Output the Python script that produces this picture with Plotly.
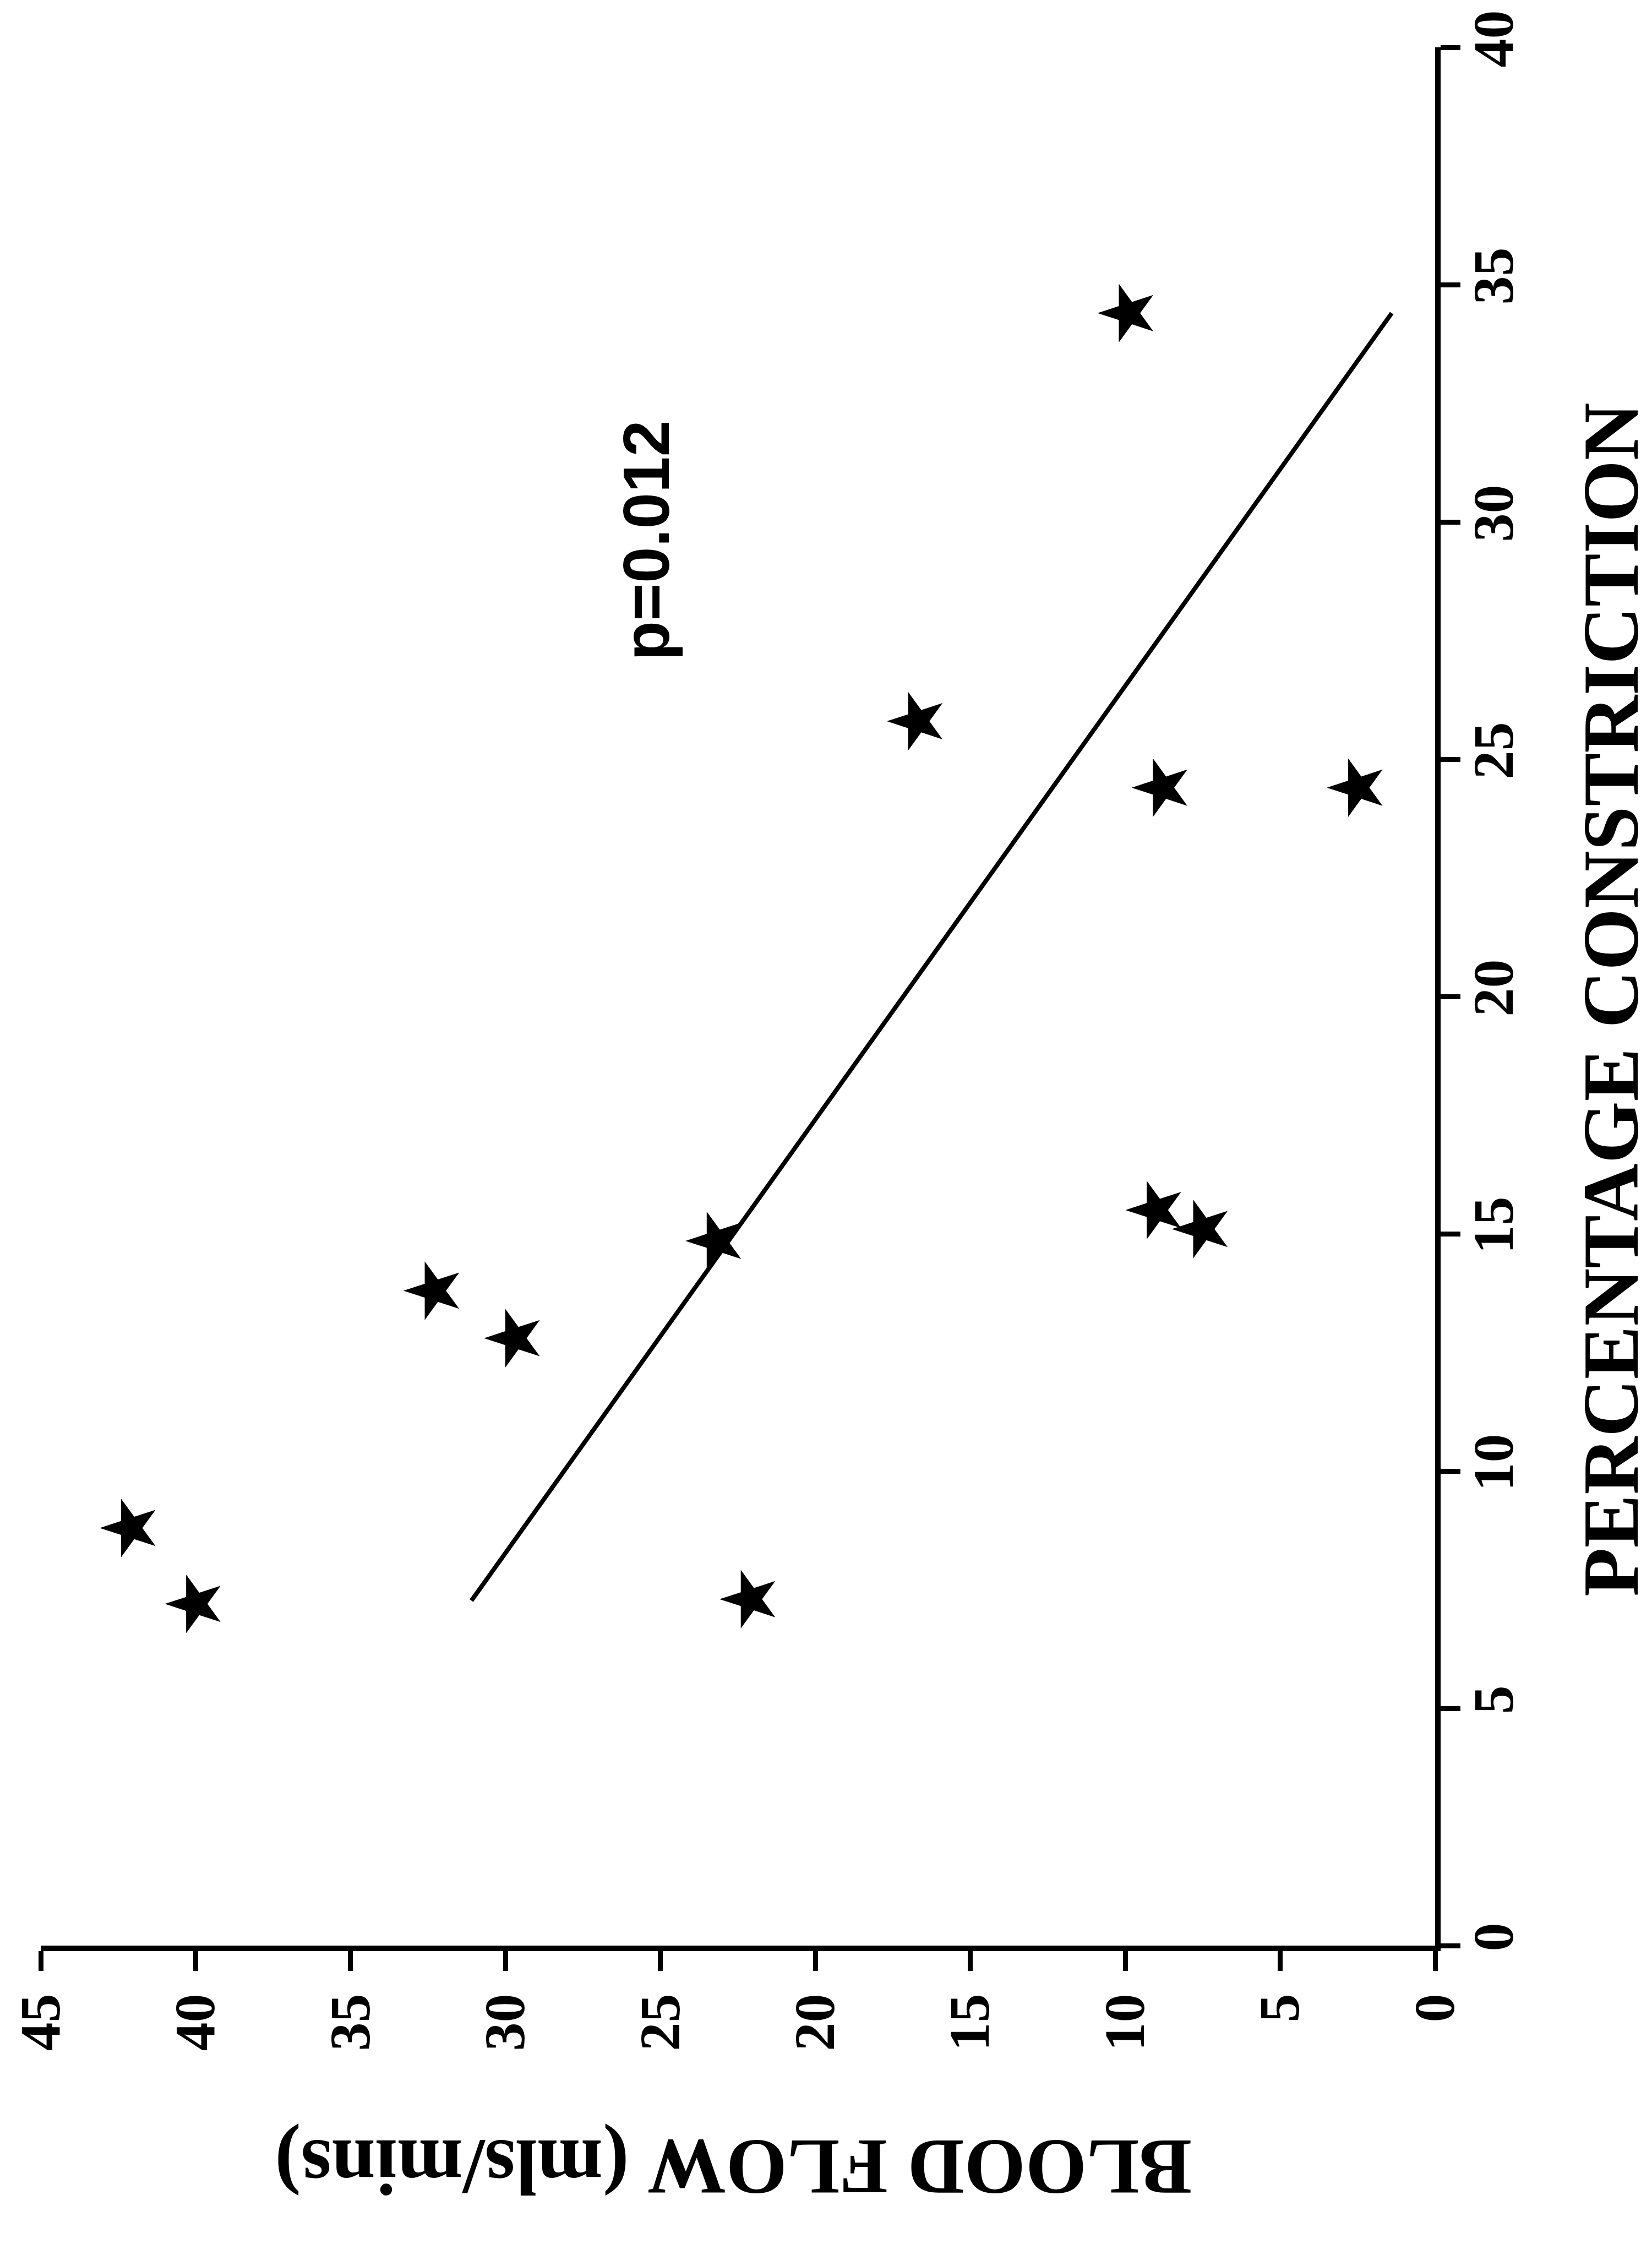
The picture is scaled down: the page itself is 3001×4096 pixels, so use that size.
import plotly.graph_objects as go

# Data read from the (rotated) reference chart
blood_flow = [42.1, 40.0, 32.3, 29.7, 23.2, 22.1, 16.7, 9.9, 8.8, 9.0, 7.5, 2.5]
pct_constriction = [8.8, 7.2, 13.8, 12.8, 14.85, 7.3, 25.8, 34.4, 24.4, 15.5, 15.1, 24.4]
fit_flow = [31.1, 1.4]
fit_pct = [7.27, 34.4]
flow_ticks = [0, 5, 10, 15, 20, 25, 30, 35, 40, 45]
pct_ticks = [0, 5, 10, 15, 20, 25, 30, 35, 40]

W, H = 3001, 4096
L, R, T, B = 66, 402, 78, 570
PW, PH = W - L - R, H - T - B


def paper(px, py):
    return (px - L) / PW, (H - B - py) / PH


SERIF = "Liberation Serif, Times New Roman, serif"
SANS = "Liberation Sans, Arial, sans-serif"

fig = go.Figure()
fig.add_trace(go.Scatter(x=fit_flow, y=fit_pct, mode="lines",
                         line=dict(color="black", width=8),
                         showlegend=False, hoverinfo="skip"))
fig.add_trace(go.Scatter(x=blood_flow, y=pct_constriction, mode="markers",
                         marker=dict(symbol="star", size=80, color="black",
                                     angle=-90, line=dict(width=0)),
                         showlegend=False, cliponaxis=False))

axis_common = dict(showgrid=False, zeroline=False, showline=True,
                   linecolor="black", linewidth=10, ticks="outside",
                   ticklen=36, tickwidth=9, tickcolor="black",
                   tickangle=-90, ticklabeloverflow="allow",
                   tickfont=dict(family=SERIF, size=104, color="black", weight="bold"))

fig.update_xaxes(range=[45, 0], tickvals=flow_ticks, side="bottom", **axis_common)
fig.update_yaxes(range=[0, 40], tickvals=pct_ticks, side="right",
                 ticklabelstandoff=-30, **axis_common)

annots = []
x, y = paper(2918, 1808)
annots.append(dict(text="PERCENTAGE CONSTRICTION", x=x, y=y, xref="paper", yref="paper",
                   textangle=-90, showarrow=False, xanchor="center", yanchor="middle",
                   font=dict(family=SERIF, size=145, color="black", weight="bold")))
x, y = paper(1324, 3928)
annots.append(dict(text="BLOOD FLOW (mls/mins)", x=x, y=y, xref="paper", yref="paper",
                   textangle=180, showarrow=False, xanchor="center", yanchor="middle",
                   font=dict(family=SERIF, size=143, color="black", weight="bold")))
x, y = paper(1166, 974)
annots.append(dict(text="p=0.012", x=x, y=y, xref="paper", yref="paper",
                   textangle=-90, showarrow=False, xanchor="center", yanchor="middle",
                   font=dict(family=SANS, size=118, color="black", weight="bold")))

fig.update_layout(width=W, height=H, margin=dict(l=L, r=R, t=T, b=B, autoexpand=False),
                  paper_bgcolor="white", plot_bgcolor="white", annotations=annots)

fig.write_html("out.html")
